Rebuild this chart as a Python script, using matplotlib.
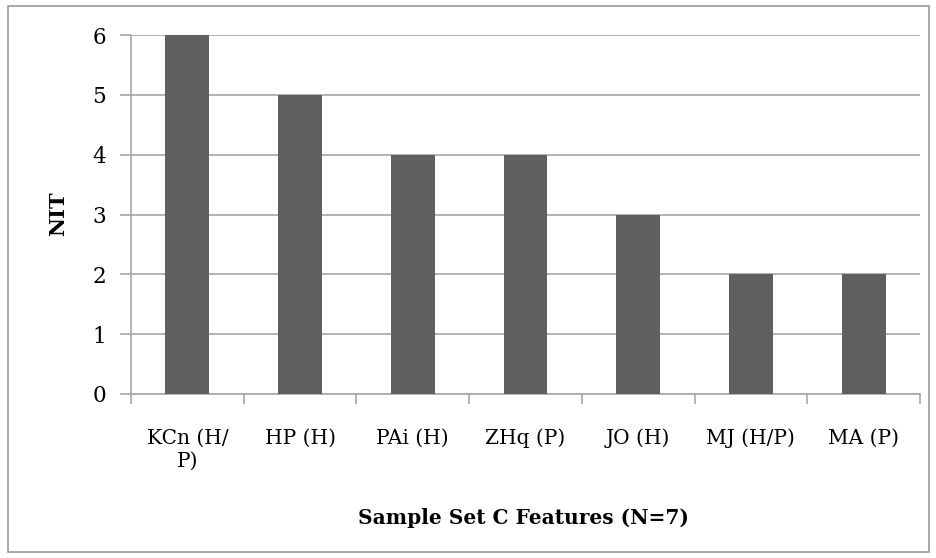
import matplotlib.pyplot as plt
from matplotlib.patches import Rectangle

# chart data
features = ["KCn (H/\nP)", "HP (H)", "PAi (H)", "ZHq (P)", "JO (H)", "MJ (H/P)", "MA (P)"]
nit = [6, 5, 4, 4, 3, 2, 2]
yticks = [0, 1, 2, 3, 4, 5, 6]

plt.rcParams['font.family'] = ['DejaVu Serif']

fig = plt.figure(figsize=(9.37, 5.58), dpi=100)
W, H = 937, 558
# axes placed in pixel coords: left 131, right 920, top 35, bottom 394
ax = fig.add_axes([131 / W, 1 - 394 / H, (920 - 131) / W, (394 - 35) / H])

grid_c = '#a6a6a6'
ax.bar(range(len(features)), nit, width=0.39, color='#5f5f5f', zorder=3)
ax.set_xlim(-0.5, len(features) - 0.5)
ax.set_ylim(0, 6)
ax.set_yticks(yticks)
ax.set_yticklabels([str(v) for v in yticks], fontsize=15.5)
ax.yaxis.grid(True, color=grid_c, linewidth=1.2, zorder=0)

ax.set_xticks([i + 0.5 for i in range(-1, len(features))])
ax.set_xticklabels([])
ax.tick_params(axis='x', length=7, color=grid_c, width=1.2, direction='out')
ax.tick_params(axis='y', length=8, color=grid_c, width=1.2, direction='out', pad=10)
for i, lab in enumerate(features):
    ax.text(i, -0.58, lab, ha='center', va='top', fontsize=14.5,
            transform=ax.transData, linespacing=1.25)

for side in ['top', 'right']:
    ax.spines[side].set_visible(False)
for side in ['left', 'bottom']:
    ax.spines[side].set_color(grid_c)
    ax.spines[side].set_linewidth(1.2)

fig.text(58 / W, 1 - 214 / H, "NIT", ha='center', va='center', rotation=90,
         fontsize=15, fontweight='bold')
fig.text(523 / W, 1 - 518 / H, "Sample Set C Features (N=7)", ha='center', va='center',
         fontsize=14.5, fontweight='bold')

# outer chart border
fig.patches.append(Rectangle((8 / W, 6 / H), 1 - 16 / W, 1 - 12 / H, transform=fig.transFigure,
                             fill=False, edgecolor='#999999', linewidth=1.2))

fig.savefig("out.png", dpi=100)
